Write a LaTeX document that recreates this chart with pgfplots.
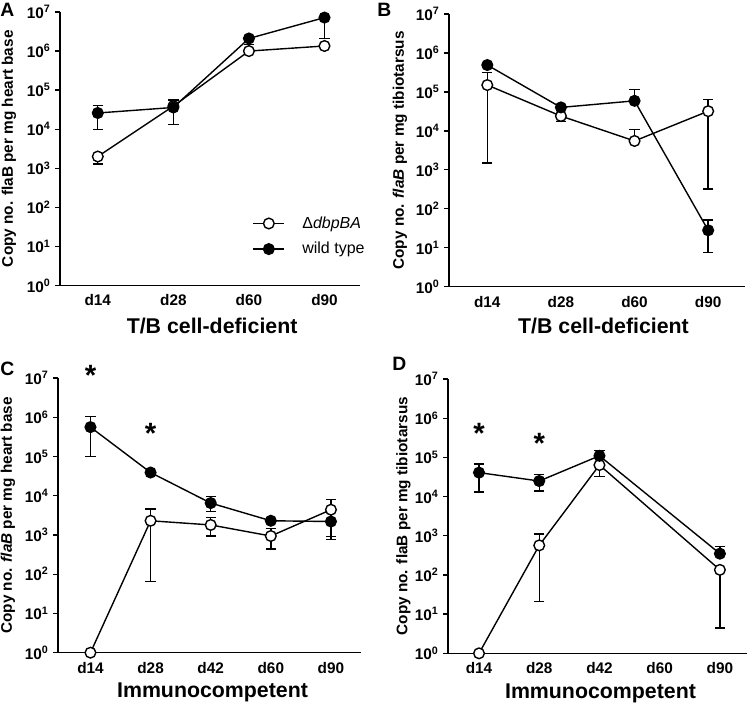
\documentclass[border=0pt]{standalone}
\usepackage{fontspec}
\setmainfont{Liberation Sans}
\usepackage{pgfplots}
\pgfplotsset{compat=1.18}
\newcommand{\tenp}[1]{\textbf{10}\textsuperscript{\textbf{#1}}}
\pgfplotsset{
  every axis/.append style={
    scale only axis,
    ymin=1, ymax=1e7,
    axis x line*=bottom, axis y line*=left,
    axis line style={line width=1.1pt, black},
    ytick={1,10,100,1000,10000,100000,1000000,10000000},
    yticklabels={\tenp{0},\tenp{1},\tenp{2},\tenp{3},\tenp{4},\tenp{5},\tenp{6},\tenp{7}},
    yminorticks=false,
    tick align=outside,
    major tick length=3.5pt,
    ytick style={line width=1pt, black},
    xtick style={draw=none},
    tick label style={font=\bfseries\fontsize{11.5}{13}\selectfont},
    ylabel style={font=\bfseries\fontsize{11.5}{14}\selectfont, anchor=center, inner sep=0pt},
    xlabel style={font=\bfseries\fontsize{16}{19}\selectfont, anchor=north, inner sep=0pt},
    clip=false,
    error bars/y dir=both, error bars/y explicit,
    error bars/error bar style={line width=1.05pt, black},
    error bars/error mark options={rotate=90, line width=1.05pt, mark size=3.9pt, black, solid},
  },
}
\tikzset{
  myopen/.style={black, line width=1.05pt, mark=*, mark size=4pt, mark options={fill=white, draw=black, solid}},
  myfull/.style={black, line width=1.05pt, mark=*, mark size=4pt, mark options={fill=black, draw=black, solid}},
  mystar/.style={font=\bfseries\fontsize{22}{22}\selectfont, inner sep=0pt, yshift=-4.5pt},
}
\begin{document}
\begin{tikzpicture}
\path[use as bounding box] (0,0) rectangle (562.5pt,-528pt);

% ---------------- Panel A
\begin{axis}[ymode=log, at={(45pt,-214.1pt)}, anchor=south west,
  width=225pt, height=205.1pt,
  xmin=-0.5, xmax=3.47, xtick={0,1,2,3},
  xticklabels={d14,d28,d60,d90},
  ylabel={Copy no. flaB per mg heart base},
  ylabel style={at={(axis description cs:-0.17,0.5)}},
  xlabel={T/B cell-deficient},
  xlabel style={at={(axis description cs:0.507,0)}, yshift=-24pt},
  legend style={draw=none, fill=none, at={(axis description cs:0.628,0.272)}, anchor=north west,
    font=\fontsize{12}{14}\selectfont, row sep=5pt, column sep=11pt},
  legend cell align=left,
  legend image code/.code={\draw[mark repeat=2,mark phase=2,#1] plot coordinates {(0pt,0pt)(11.6pt,0pt)(23.2pt,0pt)};},
]
\addplot[myopen] coordinates {
  (0,2000)    += (0,0)      -= (0,700)
  (1,39000)   += (0,17000)  -= (0,0)
  (2,1000000) += (0,480000) -= (0,0)
  (3,1350000) += (0,0)      -= (0,0)
};
\addlegendentry{Δ\textit{dbpBA}}
\addplot[myfull] coordinates {
  (0,26000)   += (0,15000) -= (0,16000)
  (1,36000)   += (0,21500) -= (0,23000)
  (2,2100000) += (0,0)     -= (0,0)
  (3,7200000) += (0,0)     -= (0,5100000)
};
\addlegendentry{wild type}
\end{axis}

% ---------------- Panel B
\begin{axis}[ymode=log, at={(336.75pt,-215pt)}, anchor=south west,
  width=222pt, height=204.5pt,
  xmin=-0.52, xmax=3.5, xtick={0,1,2,3},
  xticklabels={d14,d28,d60,d90},
  ylabel={Copy no. \textit{flaB} per mg tibiotarsus},
  ylabel style={at={(axis description cs:-0.166,0.5)}},
  xlabel={T/B cell-deficient},
  xlabel style={at={(axis description cs:0.522,0)}, yshift=-23pt},
]
\addplot[myopen] coordinates {
  (0,150000) += (0,160000) -= (0,148500)
  (1,24000)  += (0,0)      -= (0,6600)
  (2,5500)   += (0,5500)   -= (0,0)
  (3,32000)  += (0,33000)  -= (0,31680)
};
\addplot[myfull] coordinates {
  (0,490000) += (0,0)     -= (0,0)
  (1,40000)  += (0,0)     -= (0,0)
  (2,59000)  += (0,58000) -= (0,0)
  (3,28)     += (0,24)    -= (0,20.4)
};
\end{axis}

% ---------------- Panel C
\begin{axis}[ymode=log, at={(43.5pt,-489.5pt)}, anchor=south west,
  width=227.25pt, height=206pt,
  xmin=-0.54, xmax=4.5, xtick={0,1,2,3,4},
  xticklabels={d14,d28,d42,d60,d90},
  ylabel={Copy no. \textit{flaB} per mg heart base},
  ylabel style={at={(axis description cs:-0.165,0.5)}},
  xlabel={Immunocompetent},
  xlabel style={at={(axis description cs:0.51,0)}, yshift=-22.5pt},
]
\addplot[myopen] coordinates {
  (0,1)    += (0,0)    -= (0,0)
  (1,2300) += (0,2300) -= (0,2235)
  (2,1800) += (0,1000) -= (0,850)
  (3,940)  += (0,540)  -= (0,500)
  (4,4400) += (0,3500) -= (0,3500)
};
\addplot[myfull] coordinates {
  (0,560000) += (0,490000) -= (0,460000)
  (1,39000)  += (0,0)      -= (0,0)
  (2,6500)   += (0,3050)   -= (0,2500)
  (3,2300)   += (0,0)      -= (0,0)
  (4,2200)   += (0,0)      -= (0,1440)
};
\node[mystar] at (axis cs:0,1.7e7) {*};
\node[mystar] at (axis cs:1,5.4e5) {*};
\end{axis}

% ---------------- Panel D
\begin{axis}[ymode=log, at={(336pt,-490pt)}, anchor=south west,
  width=224.25pt, height=205.7pt,
  xmin=-0.515, xmax=4.45, xtick={0,1,2,3,4},
  xticklabels={d14,d28,d42,d60,d90},
  ylabel={Copy no. flaB per mg tibiotarsus},
  ylabel style={at={(axis description cs:-0.149,0.5)}},
  xlabel={Immunocompetent},
  xlabel style={at={(axis description cs:0.51,0)}, yshift=-22.5pt},
]
\addplot[myopen] coordinates {
  (0,1)     += (0,0)   -= (0,0)
  (1,570)   += (0,530) -= (0,549)
  (2,64000) += (0,0)   -= (0,31000)
  (4,135)   += (0,0)   -= (0,130.6)
};
\addplot[myfull] coordinates {
  (0,41000)  += (0,27000) -= (0,28000)
  (1,25000)  += (0,12000) -= (0,11200)
  (2,110000) += (0,38000) -= (0,0)
  (4,350)    += (0,190)   -= (0,0)
};
\node[mystar] at (axis cs:0,6.0e5) {*};
\node[mystar] at (axis cs:1,3.3e5) {*};
\end{axis}

% panel letters
\node[anchor=north west, inner sep=0pt, font=\bfseries\fontsize{14.5}{17}\selectfont] at (0pt,-2pt) {A};
\node[anchor=north west, inner sep=0pt, font=\bfseries\fontsize{14.5}{17}\selectfont] at (282.75pt,-2.5pt) {B};
\node[anchor=north west, inner sep=0pt, font=\bfseries\fontsize{14.5}{17}\selectfont] at (0pt,-271.5pt) {C};
\node[anchor=north west, inner sep=0pt, font=\bfseries\fontsize{14.5}{17}\selectfont] at (294pt,-268pt) {D};
\end{tikzpicture}
\end{document}
